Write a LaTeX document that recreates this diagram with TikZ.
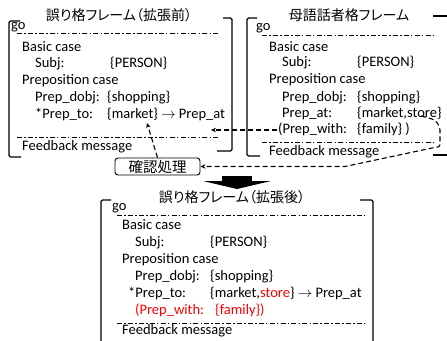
\documentclass[tikz,border=0pt]{standalone}
\usepackage{fontspec}
\setmainfont{Carlito}
\newfontfamily\jp[RawFeature=+palt]{Noto Sans CJK JP}
\usetikzlibrary{arrows.meta}
\begin{document}
\begin{tikzpicture}[x=1pt,y=-1pt,
  txt/.style={font=\fontsize{14.5}{16}\selectfont, anchor=base west, inner sep=0pt},
  ttl/.style={font=\jp\fontsize{14}{15}\selectfont, inner sep=0pt},
  brk/.style={line width=1.4pt, rounded corners=1.5pt},
  sep/.style={line width=0.9pt, dash pattern=on 5pt off 2.2pt on 1.5pt off 2.2pt},
  dsh/.style={line width=1.1pt, dash pattern=on 5pt off 3pt},
  tip/.style={-{Stealth[length=5pt,width=4.5pt]}},
  rd/.style={text=red}
]
\useasboundingbox (0,0) rectangle (447,340);

% ---------- left frame (before) ----------
\draw[brk] (20,21) -- (9,21) -- (9,157) -- (21,157);
\draw[brk] (223,18) -- (232,18) -- (232,151) -- (217,151);
\node[ttl] (t1) at (119,15) {誤り格フレーム（拡張前）};
\node[txt] (g1) at (11,29.5) {go};
\draw[sep] (17,33) -- (218,33);
\node[txt] (a1) at (22,51) {Basic case};
\node[txt] (a2) at (35,67.5) {Subj:};
\node[txt] (a3) at (110,67.5) {\{PERSON\}};
\node[txt] (a4) at (22,84.5) {Preposition case};
\node[txt] (a5) at (35,101.5) {Prep\_dobj:};
\node[txt] (a6) at (107,101.5) {\{shopping\}};
\node[txt] (a7) at (35,118.5) {*Prep\_to:};
\node[txt] (a8) at (107,118.5) {\{market\} $\rightarrow$ Prep\_at};
\draw[sep] (17,137) -- (218,137);
\node[txt] (a9) at (22,150) {Feedback message};

% ---------- right frame (native) ----------
\draw[brk] (257,18) -- (247,18) -- (247,156) -- (260,156);
\draw[brk] (433,16) -- (449,16);
\draw[brk] (433,155) -- (449,155);
\node[ttl] (t2) at (349,15) {母語話者格フレーム};
\node[txt] (g2) at (256,30) {go};
\draw[sep] (262,35) -- (433,35);
\node[txt] (b1) at (269,51) {Basic case};
\node[txt] (b2) at (282,66.5) {Subj:};
\node[txt] (b3) at (357,66.5) {\{PERSON\}};
\node[txt] (b4) at (269,83.5) {Preposition case};
\node[txt] (b5) at (282,101) {Prep\_dobj:};
\node[txt] (b6) at (357,101) {\{shopping\}};
\node[txt] (b7) at (282,117) {Prep\_at:};
\node[txt] (b8) at (357,117) {\{market,store\}};
\node[txt] (b9) at (278,133) {(Prep\_with:};
\node[txt] (b10) at (357,133) {\{family\} )};
\draw[sep] (262,142) -- (433,142);
\node[txt] (b11) at (269,155) {Feedback message};

% ---------- confirmation box and big arrow ----------
\node[draw, line width=0.9pt, rounded corners=3pt, minimum width=85pt, minimum height=17pt,
      inner sep=0pt, font=\jp\fontsize{14.5}{15}\selectfont] (box) at (157.5,166.5) {確認処理};
\fill (222,176) rectangle (252,181.5);
\fill (203,181) -- (271,181) -- (237,189) -- cycle;

% ---------- bottom frame (after) ----------
\draw[brk] (111,200) -- (101,200) -- (101,345);
\draw[brk] (360,200) -- (373,200) -- (373,345);
\node[ttl] (t3) at (232,197.5) {誤り格フレーム（拡張後）};
\node[txt] (g3) at (112,210) {go};
\draw[sep] (117,215) -- (365,215);
\node[txt] (c1) at (122,229.5) {Basic case};
\node[txt] (c2) at (135,246) {Subj:};
\node[txt] (c3) at (210,246) {\{PERSON\}};
\node[txt] (c4) at (122,263) {Preposition case};
\node[txt] (c5) at (135,280) {Prep\_dobj:};
\node[txt] (c6) at (210,280) {\{shopping\}};
\node[txt] (c7) at (128,297) {*Prep\_to:};
\node[txt] (c8) at (210,297) {\{market,\textcolor{red}{store}\} $\rightarrow$ Prep\_at};
\node[txt,rd] (c9) at (135,314.5) {(Prep\_with:};
\node[txt,rd] (c10) at (215,314.5) {\{family\})};
\draw[sep] (117,323) -- (365,323);
\node[txt] (c11) at (122,334) {Feedback message};

% ---------- dashed connectors ----------
\coordinate (mk) at (147,123);
\draw[dsh,tip] (box.north) -- (mk);
\coordinate (pwL) at (277,130);
\coordinate (ins) at (211,130);
\draw[dsh,tip] (pwL) -- (ins);
\coordinate (st) at (421,116);
\draw[dsh,tip] (st) .. controls (437,120) .. (440,130) -- (440,142)
   .. controls (440,147) .. (432,148) -- (345,166.5) -- (box.east);
\end{tikzpicture}
\end{document}
